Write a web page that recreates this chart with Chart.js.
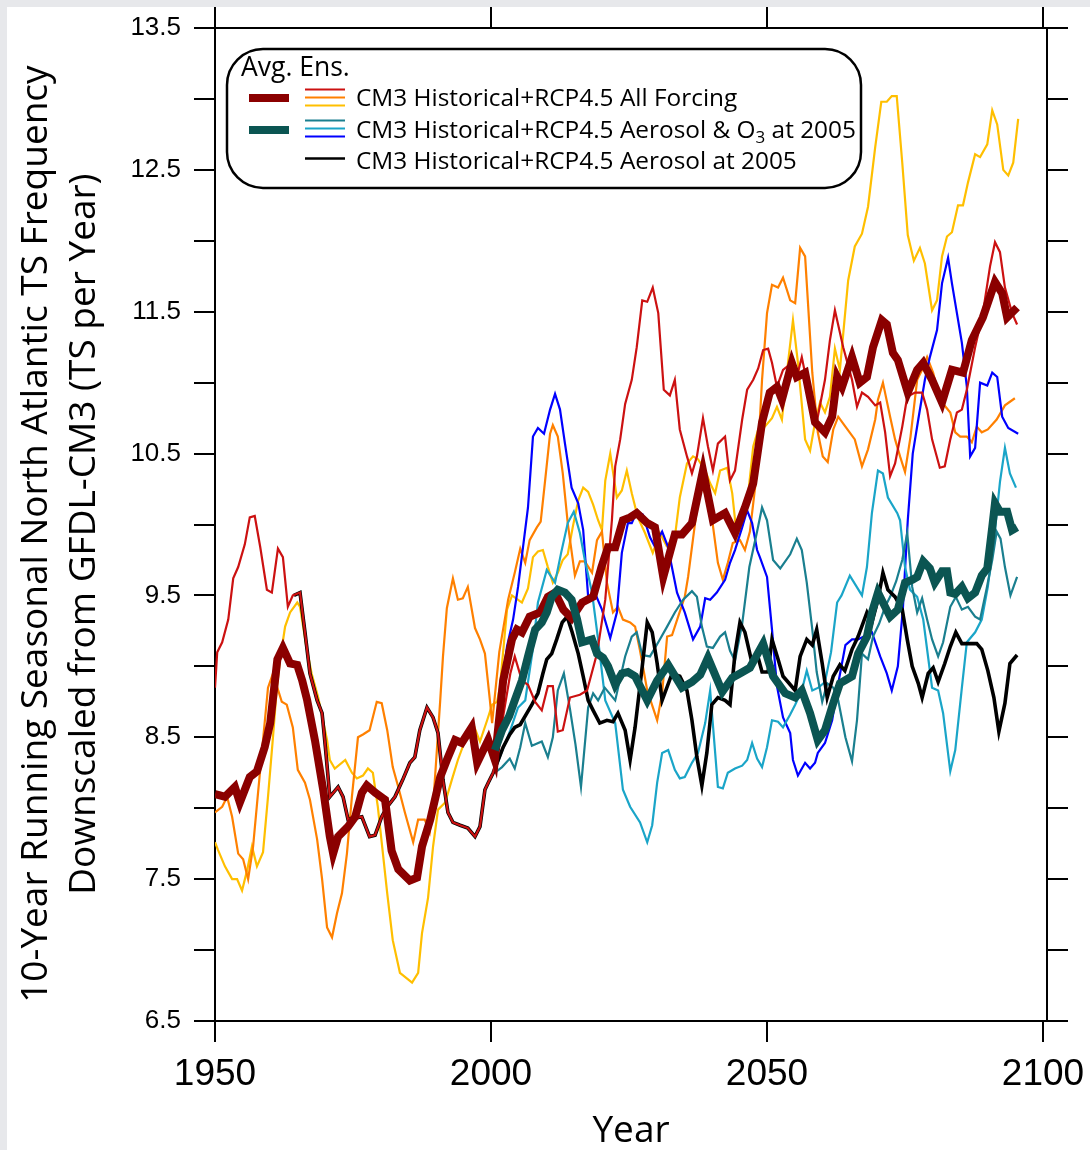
<!DOCTYPE html>
<html>
<head>
<meta charset="utf-8">
<script src="https://cdn.jsdelivr.net/npm/chart.js@4"></script>
<style>
  html, body { margin: 0; padding: 0; background: #fff; overflow: hidden; }
  canvas { display: block; }
</style>
</head>
<body>
<canvas id="tsChart" width="1090" height="1150"></canvas>
<script>
// Axis ticks
const xTicks = [1950, 2000, 2050, 2100];
const yTicks = [6.5, 7, 7.5, 8, 8.5, 9, 9.5, 10, 10.5, 11, 11.5, 12, 12.5, 13, 13.5];

// All Forcing : ensemble mean + 3 members  ([year, TS per year])
const allMean = [[1950,8.10],[1950.9,8.09],[1951.8,8.08],[1953.6,8.15],[1954.5,8.04],[1956.3,8.22],[1957.6,8.26],[1959,8.43],[1960,8.60],[1961.3,9.05],[1962.3,9.13],[1963.6,9.02],[1964.9,9.01],[1965.8,8.90],[1966.7,8.76],[1968.1,8.48],[1969.6,8.13],[1970.8,7.80],[1971.4,7.68],[1972.3,7.80],[1974.1,7.87],[1975.4,7.94],[1976.6,8.11],[1977.5,8.16],[1979,8.11],[1980.8,8.06],[1982,7.70],[1983.2,7.57],[1985.3,7.49],[1986.6,7.51],[1987.5,7.73],[1989,7.92],[1990.8,8.22],[1992,8.34],[1993.5,8.48],[1994.7,8.46],[1996.5,8.57],[1997.5,8.32],[1999.5,8.48],[2000.7,8.34],[2002.2,8.90],[2003.8,9.19],[2004.7,9.26],[2005.6,9.24],[2007,9.35],[2008.9,9.38],[2010.3,9.49],[2011.6,9.52],[2013.1,9.40],[2014.6,9.34],[2016.5,9.45],[2018.5,9.49],[2020,9.70],[2021.2,9.84],[2022.5,9.84],[2023.9,10.03],[2025.2,10.05],[2026.4,10.08],[2028.3,10.01],[2029.7,9.98],[2031.2,9.63],[2033.3,9.93],[2034.6,9.93],[2036.4,10.01],[2038.4,10.38],[2040.2,10.03],[2042.4,10.08],[2044.2,9.94],[2046,10.12],[2047.5,10.29],[2049.1,10.72],[2050.5,10.93],[2051.8,10.97],[2052.7,10.88],[2054.5,11.14],[2055.4,11.04],[2056.9,11.07],[2058.7,10.72],[2060.5,10.65],[2061.8,10.76],[2062.7,11.04],[2063.6,10.97],[2065.4,11.18],[2066.8,11.00],[2068.1,11.04],[2069.2,11.25],[2070.8,11.44],[2071.7,11.41],[2072.8,11.21],[2073.7,11.16],[2075.5,10.93],[2077.2,11.09],[2078.3,11.14],[2079.9,11.02],[2081.7,10.86],[2083.5,11.09],[2085.5,11.07],[2087.1,11.30],[2089.1,11.46],[2091.3,11.71],[2092.6,11.63],[2093.5,11.46],[2095.3,11.53]];

const allRun1 = [[1950,8.85],[1950.4,9.10],[1951.3,9.17],[1952.4,9.33],[1953.3,9.62],[1954.2,9.70],[1955.4,9.86],[1956.3,10.05],[1957.2,10.06],[1958.2,9.84],[1959.4,9.54],[1960.3,9.52],[1961.4,9.83],[1962.3,9.77],[1963.2,9.42],[1964.1,9.50],[1965.4,9.52],[1966.3,9.24],[1967.2,8.95],[1968.5,8.76],[1969.4,8.67],[1970,8.43],[1970.8,8.08],[1972.3,8.15],[1973.2,8.08],[1974.1,7.92],[1976.6,7.94],[1978,7.80],[1979,7.81],[1980.2,7.94],[1981.2,8.01],[1982.6,8.08],[1984,8.20],[1985.3,8.32],[1986.2,8.36],[1987.1,8.55],[1988.4,8.71],[1989.5,8.64],[1990.4,8.53],[1991.3,8.20],[1992.2,7.97],[1993.1,7.90],[1994.4,7.88],[1995.8,7.86],[1997.1,7.80],[1998,7.87],[1998.9,8.13],[1999.5,8.18],[2000.4,8.25],[2002,8.60],[2003.5,8.95],[2004.3,9.07],[2005.6,8.90],[2006.7,8.87],[2008,8.75],[2009.2,8.69],[2010.3,8.86],[2011.2,8.86],[2012.1,8.54],[2013,8.55],[2014.3,8.78],[2016.1,8.80],[2017.4,8.83],[2019.2,9.09],[2020.7,9.47],[2021.9,10.03],[2022.5,10.41],[2023.4,10.60],[2024.3,10.85],[2025.5,11.02],[2026.4,11.25],[2027.4,11.58],[2028.3,11.57],[2029.3,11.67],[2030.3,11.49],[2031.3,10.95],[2032.4,10.91],[2033.3,11.02],[2034.2,10.67],[2035.5,10.48],[2036.4,10.36],[2037.3,10.48],[2038.4,10.75],[2039.3,10.55],[2040.2,10.38],[2041.1,10.57],[2042.4,10.62],[2043.3,10.31],[2044.2,10.38],[2045.5,10.74],[2046.4,10.95],[2047.5,11.02],[2048.4,11.10],[2049.3,11.23],[2050.2,11.24],[2050.9,11.14],[2051.8,10.97],[2052.9,11.09],[2054.5,11.14],[2055.4,11.04],[2056.3,11.18],[2057.4,10.97],[2059,10.72],[2060.5,11.02],[2061.4,11.30],[2062.3,11.51],[2063.8,11.25],[2065.4,11.02],[2066.3,10.83],[2067.2,10.93],[2068.3,10.90],[2069.6,10.84],[2070.5,10.86],[2071.4,10.65],[2072.3,10.34],[2073.2,10.43],[2074.5,10.69],[2075.4,10.90],[2076.8,10.93],[2078.1,10.93],[2079,10.81],[2079.9,10.60],[2081.3,10.40],[2082.2,10.41],[2083.2,10.60],[2084.4,10.79],[2085.3,10.81],[2086.2,10.95],[2087.7,11.25],[2089.1,11.49],[2090.4,11.82],[2091.3,11.99],[2092.2,11.92],[2093.1,11.67],[2094.4,11.49],[2095.3,11.41]];

const allRun2 = [[1950,7.97],[1951.3,8.01],[1952.2,8.08],[1953.1,7.94],[1954.2,7.68],[1955.1,7.64],[1956,7.50],[1956.9,7.73],[1957.8,8.11],[1958.7,8.48],[1959.6,8.85],[1960.5,8.95],[1962.1,8.75],[1963,8.73],[1964.1,8.57],[1965,8.27],[1966.3,8.18],[1967.2,8.06],[1968.5,7.78],[1969.4,7.50],[1970.3,7.16],[1971.2,7.09],[1972.1,7.26],[1973,7.40],[1973.9,7.68],[1974.8,8.08],[1975.9,8.50],[1976.8,8.52],[1978,8.55],[1979.3,8.75],[1980.2,8.74],[1981.2,8.55],[1982.2,8.29],[1983.2,8.15],[1984.4,7.97],[1985.9,7.76],[1986.8,7.92],[1988,7.92],[1988.9,7.83],[1989.5,8.01],[1990.8,8.76],[1991.3,9.07],[1992,9.41],[1993.1,9.62],[1994,9.47],[1994.9,9.48],[1995.8,9.56],[1997.1,9.27],[1998,9.19],[1998.9,9.09],[1999.8,8.76],[2000.2,8.60],[2001.5,9.10],[2003.1,9.47],[2004.3,9.66],[2005.3,9.83],[2006.2,9.73],[2007,9.89],[2008.3,9.98],[2009,10.02],[2009.8,10.31],[2010.7,10.64],[2011.2,10.70],[2012.1,10.62],[2013,10.36],[2013.9,10.01],[2015.2,9.64],[2016.1,9.74],[2017,9.74],[2018.3,9.66],[2019.2,9.89],[2020.1,9.95],[2021,9.59],[2022.1,9.38],[2023,9.42],[2023.9,9.33],[2025.2,9.31],[2026.1,9.28],[2027,9.11],[2028.3,8.83],[2030.1,8.62],[2031,8.81],[2031.9,9.21],[2032.8,9.22],[2033.9,9.35],[2035.1,9.49],[2035.7,9.63],[2036.6,9.90],[2037.9,10.29],[2039,10.20],[2040,10.05],[2041.1,9.73],[2042,9.61],[2042.9,9.73],[2043.8,9.87],[2045.1,9.89],[2046,9.82],[2046.9,9.95],[2048.2,10.38],[2049.1,11.02],[2050,11.49],[2050.9,11.69],[2052,11.67],[2052.9,11.74],[2054.2,11.58],[2055.1,11.56],[2056,11.95],[2056.9,11.89],[2058.2,11.07],[2059.2,10.65],[2060.1,10.48],[2061,10.44],[2062,10.67],[2062.9,10.76],[2064,10.70],[2065.9,10.60],[2067.2,10.41],[2068.3,10.53],[2069.6,10.74],[2070.1,10.88],[2071,11.00],[2072.3,10.76],[2073.2,10.60],[2074.1,10.48],[2075,10.37],[2076,10.62],[2077.2,11.02],[2078.1,11.09],[2079,11.18],[2080.1,11.07],[2081.3,10.88],[2083.2,10.79],[2084.1,10.65],[2085,10.62],[2086.2,10.62],[2087.1,10.58],[2088,10.69],[2088.9,10.65],[2090,10.67],[2091.6,10.74],[2093.1,10.84],[2094.9,10.89]];

const allRun3 = [[1950,7.76],[1950.5,7.71],[1951.8,7.59],[1953.1,7.50],[1954,7.50],[1954.9,7.42],[1955.8,7.56],[1956.7,7.73],[1957.6,7.59],[1958.7,7.69],[1959.6,8.08],[1960.5,8.50],[1961.2,8.85],[1961.8,9.05],[1962.7,9.28],[1963.6,9.38],[1964.9,9.45],[1965.4,9.42],[1966.5,9.15],[1967.5,8.95],[1968.7,8.78],[1970.3,8.48],[1970.8,8.34],[1971.7,8.28],[1973.6,8.34],[1974.8,8.25],[1975.7,8.21],[1976.8,8.23],[1977.7,8.28],[1978.6,8.25],[1979.5,8.01],[1980.2,7.76],[1981.2,7.40],[1982.2,7.07],[1983.5,6.84],[1985.7,6.77],[1986.8,6.84],[1987.5,7.12],[1988.6,7.37],[1989.5,7.73],[1990.4,7.99],[1991.7,8.04],[1992.9,8.20],[1994,8.34],[1995.7,8.52],[1996.7,8.60],[1998,8.47],[1999.3,8.62],[2000.2,8.73],[2001.1,8.75],[2001.6,8.85],[2002.9,9.40],[2003.8,9.50],[2005.6,9.45],[2006.7,9.55],[2007.6,9.77],[2008.5,9.81],[2009.4,9.82],[2010.3,9.70],[2011.2,9.59],[2012.1,9.66],[2013,9.75],[2013.9,9.79],[2014.8,9.98],[2015.8,10.17],[2016.7,10.26],[2017.6,10.23],[2018.5,10.14],[2019.4,10.03],[2020.1,9.96],[2020.7,10.31],[2021.6,10.50],[2022.8,10.19],[2023.7,10.24],[2024.6,10.38],[2025.5,10.22],[2026.6,10.05],[2027.9,9.94],[2029.3,9.80],[2030.6,9.94],[2031.8,9.85],[2033.3,9.91],[2034.2,10.19],[2035.5,10.43],[2036.6,10.48],[2037.5,10.46],[2038.8,10.38],[2039.7,10.29],[2040.6,10.22],[2041.5,10.38],[2042.8,10.40],[2043.7,10.22],[2044.6,9.89],[2045.7,10.03],[2046.6,10.22],[2047.5,10.55],[2048.4,10.67],[2049.6,10.69],[2050.9,10.75],[2051.8,10.83],[2052.7,10.74],[2053.8,11.14],[2054.7,11.44],[2055.6,11.14],[2056.9,10.60],[2057.8,10.52],[2058.7,10.72],[2059.6,10.86],[2060.5,10.79],[2061.4,10.90],[2062.3,11.24],[2063.2,11.09],[2064.7,11.72],[2065.9,11.96],[2067.2,12.05],[2068.3,12.24],[2069.6,12.66],[2070.7,12.98],[2071.7,12.98],[2072.6,13.02],[2073.5,13.02],[2074.5,12.55],[2075.5,12.04],[2076.6,11.86],[2077.7,11.95],[2078.6,11.84],[2079.9,11.51],[2080.8,11.58],[2081.7,11.89],[2082.6,12.03],[2083.5,12.06],[2084.6,12.25],[2085.5,12.25],[2086.4,12.41],[2087.7,12.61],[2088.6,12.59],[2089.9,12.68],[2090.8,12.92],[2091.7,12.82],[2092.8,12.50],[2093.7,12.46],[2094.6,12.55],[2095.5,12.86]];

// Aerosol & O3 at 2005 : ensemble mean + 3 members
const aerO3Mean = [[2000.7,8.41],[2002,8.55],[2003.3,8.65],[2004.3,8.76],[2005.6,8.90],[2006.7,9.07],[2008,9.26],[2009.2,9.31],[2010.1,9.38],[2011,9.49],[2012.1,9.54],[2013.4,9.52],[2014.6,9.47],[2015.6,9.33],[2016.5,9.17],[2018.3,9.19],[2019.2,9.09],[2020.3,9.06],[2021.2,9.00],[2022.5,8.87],[2023.7,8.95],[2024.8,8.96],[2026.1,8.93],[2028.3,8.76],[2030.1,8.90],[2032.1,9.01],[2034.6,8.85],[2036.4,8.89],[2037.9,8.94],[2039.3,9.06],[2041.9,8.82],[2043.7,8.92],[2045.1,8.95],[2046.9,8.99],[2049.3,9.16],[2051.1,8.93],[2053.3,8.81],[2055.1,8.78],[2056.3,8.83],[2057.8,8.67],[2059.2,8.48],[2060.5,8.55],[2062,8.74],[2063.2,8.88],[2064.1,8.90],[2065.4,8.93],[2066.5,9.09],[2068.1,9.21],[2069,9.38],[2070.1,9.52],[2071,9.45],[2072.3,9.35],[2073.7,9.40],[2075,9.59],[2076.3,9.61],[2077.2,9.63],[2078.3,9.74],[2079.5,9.69],[2080.4,9.59],[2081.7,9.67],[2082.6,9.67],[2083.2,9.52],[2084.1,9.51],[2085.3,9.56],[2086.4,9.48],[2087.7,9.52],[2088.9,9.64],[2089.9,9.69],[2090.8,9.98],[2091.3,10.15],[2092.2,10.09],[2093.5,10.09],[2094.4,9.96],[2095.3,9.98]];

const aerO3Run1 = [[2000.7,8.25],[2002,8.29],[2003.4,8.35],[2004.3,8.28],[2005.3,8.43],[2006.2,8.60],[2007.4,8.44],[2009.2,8.47],[2010.3,8.36],[2011.2,8.50],[2012.1,8.83],[2013.2,8.95],[2014.3,8.70],[2015.3,8.45],[2016.3,8.15],[2017.6,8.71],[2018.5,8.81],[2019.4,8.76],[2020.6,8.85],[2022.5,8.76],[2024.3,9.07],[2025.5,9.21],[2026.4,9.24],[2027.4,9.08],[2028.8,9.07],[2030.3,9.17],[2031.9,9.28],[2033.3,9.38],[2034.8,9.47],[2036.4,9.53],[2037.3,9.49],[2038.2,9.28],[2039.1,9.14],[2040.2,9.13],[2041.5,9.21],[2042.4,9.24],[2043.3,9.11],[2044.2,9.04],[2045.5,9.30],[2046.8,9.70],[2048.2,9.95],[2049.1,10.12],[2050,10.03],[2051.1,9.75],[2052.4,9.69],[2054.2,9.79],[2055.4,9.90],[2056.3,9.82],[2057.2,9.59],[2058.2,9.26],[2059,8.96],[2060,8.75],[2060.9,8.88],[2062,8.85],[2062.9,8.76],[2064.2,8.50],[2065.4,8.33],[2066.3,8.62],[2067.2,9.09],[2068.3,9.05],[2069.2,9.21],[2070.3,9.30],[2071.4,9.42],[2072.3,9.49],[2073.4,9.60],[2074.5,9.75],[2075.4,9.94],[2076.3,9.56],[2077.2,9.38],[2078.1,9.48],[2079,9.33],[2079.9,9.19],[2081,9.07],[2081.9,9.17],[2083.2,9.42],[2084.2,9.49],[2085.3,9.40],[2086.4,9.42],[2087.7,9.35],[2088.6,9.33],[2089.8,9.55],[2090.8,9.75],[2091.6,9.95],[2092.3,9.90],[2093.1,9.70],[2094.1,9.50],[2095.3,9.63]];

const aerO3Run2 = [[2000.5,8.25],[2002,8.40],[2003.5,8.55],[2004.9,8.71],[2006.2,8.76],[2007.5,9.10],[2008.5,9.45],[2010.1,9.68],[2011.6,9.59],[2012.7,9.80],[2013.9,10.01],[2015,10.09],[2016.1,9.94],[2017,9.75],[2018.3,9.52],[2019.4,9.19],[2020.7,8.76],[2022.5,8.60],[2023.9,8.13],[2025.2,8.01],[2027,7.90],[2028.3,7.76],[2029.2,7.88],[2030.1,8.18],[2031,8.39],[2032.1,8.41],[2033.3,8.27],[2034.2,8.21],[2035.1,8.22],[2036.4,8.32],[2037.5,8.39],[2038.8,8.60],[2039.7,8.83],[2041.1,8.15],[2042,8.14],[2042.9,8.25],[2044.2,8.28],[2045.5,8.30],[2046.4,8.34],[2047.3,8.46],[2048.2,8.35],[2049.1,8.29],[2050,8.43],[2050.9,8.62],[2052,8.61],[2052.9,8.57],[2054.2,8.66],[2055.1,8.73],[2056.3,8.83],[2057.2,8.97],[2058.2,8.83],[2059.3,8.85],[2060.5,8.89],[2061.6,9.10],[2062.7,9.45],[2063.5,9.50],[2065,9.64],[2067.2,9.50],[2068.1,9.70],[2069,10.08],[2070.1,10.38],[2071,10.36],[2071.9,10.19],[2073.6,10.08],[2074.1,10.03],[2075,9.70],[2075.9,9.54],[2077.2,9.49],[2078.3,9.33],[2079.9,8.85],[2081,8.83],[2081.9,8.67],[2083.2,8.26],[2084.1,8.41],[2085.3,8.85],[2086.2,9.17],[2087.7,9.24],[2088.9,9.33],[2090,9.56],[2091.3,9.96],[2092.2,10.30],[2093.1,10.54],[2094,10.36],[2095.1,10.26]];

const aerO3Run3 = [[2000.4,8.35],[2001.6,8.76],[2002.9,9.14],[2004,9.33],[2004.9,9.56],[2005.8,9.84],[2006.7,10.12],[2007.6,10.62],[2008.5,10.68],[2009.6,10.64],[2010.7,10.81],[2011.6,10.92],[2012.5,10.81],[2013.4,10.57],[2014.6,10.26],[2015.8,10.15],[2016.7,9.96],[2017.6,9.49],[2018.8,9.52],[2020.1,9.40],[2021.6,9.20],[2022.8,9.38],[2023.7,9.80],[2024.8,10.01],[2025.5,10.01],[2026.4,10.09],[2027.5,10.07],[2028.8,9.91],[2029.6,9.85],[2031,9.95],[2032,9.85],[2033.7,9.52],[2035.1,9.38],[2036.6,9.19],[2037.9,9.28],[2038.8,9.48],[2039.7,9.47],[2040.9,9.52],[2042.4,9.61],[2043.3,9.73],[2044.2,9.82],[2045.5,9.98],[2046.4,10.10],[2047.3,10.01],[2048.2,9.82],[2048.7,9.77],[2050,9.63],[2050.9,9.26],[2051.8,8.86],[2052.9,8.64],[2054.2,8.53],[2054.7,8.34],[2055.6,8.23],[2056.9,8.32],[2057.8,8.28],[2058.7,8.32],[2059.2,8.39],[2060.5,8.46],[2061.8,8.62],[2063,8.90],[2064.2,9.15],[2065.4,9.19],[2066.5,9.19],[2069,9.24],[2070.5,9.07],[2071.7,8.95],[2072.6,8.83],[2073.7,9.00],[2074.6,9.40],[2075.5,10.03],[2076.4,10.50],[2077.4,10.74],[2078.6,11.02],[2079.5,11.18],[2080.8,11.37],[2081.7,11.70],[2082.8,11.88],[2083.5,11.70],[2084.4,11.49],[2085.3,11.28],[2086.2,10.97],[2086.8,10.48],[2087.7,10.54],[2088.6,11.00],[2089.9,10.98],[2090.8,11.07],[2091.7,11.04],[2092.6,10.76],[2093.7,10.68],[2095.5,10.64]];

// Aerosol at 2005 : single run
const aerRun = [[1964.3,9.50],[1965.4,9.52],[1966.3,9.24],[1967.2,8.95],[1968.5,8.76],[1969.4,8.67],[1970,8.43],[1970.8,8.08],[1972.3,8.15],[1973.2,8.08],[1974.1,7.92],[1976.6,7.94],[1978,7.80],[1979,7.81],[1980.2,7.94],[1981.2,8.01],[1982.6,8.08],[1984,8.20],[1985.3,8.32],[1986.2,8.36],[1987.1,8.55],[1988.4,8.71],[1989.5,8.64],[1990.4,8.53],[1991.3,8.20],[1992.2,7.97],[1993.1,7.90],[1994.4,7.88],[1995.8,7.86],[1997.1,7.80],[1998,7.87],[1998.9,8.13],[1999.5,8.18],[2000.4,8.25],[2001.3,8.34],[2002.2,8.43],[2003.4,8.52],[2004.3,8.57],[2005.3,8.59],[2006.5,8.67],[2007.4,8.73],[2008.5,8.81],[2009.4,8.95],[2010.1,9.05],[2011,9.09],[2011.9,9.19],[2012.9,9.31],[2013.8,9.35],[2014.7,9.24],[2015.8,9.09],[2016.7,8.93],[2017.6,8.76],[2018.5,8.69],[2019.7,8.60],[2021,8.62],[2022.1,8.61],[2023,8.67],[2024.3,8.55],[2025.2,8.34],[2026.1,8.57],[2027.4,9.00],[2028.3,9.31],[2029.2,9.24],[2030.1,9.02],[2031,8.76],[2032.8,8.95],[2034.2,8.93],[2035.5,8.83],[2036.4,8.62],[2037.3,8.36],[2038.2,8.16],[2039.1,8.39],[2040,8.73],[2041.1,8.78],[2042.4,8.76],[2043.3,8.73],[2044.2,9.09],[2045.1,9.31],[2046,9.24],[2047.3,9.02],[2048.2,9.09],[2049.1,8.96],[2050.2,8.96],[2050.9,9.19],[2052,9.05],[2052.9,8.93],[2053.8,8.89],[2055.1,8.83],[2056,9.07],[2057.2,9.19],[2058.2,9.15],[2059,9.26],[2060,9.02],[2060.9,8.78],[2062,8.93],[2063.2,9.01],[2064.1,8.97],[2065.4,9.12],[2066.5,9.21],[2068.1,9.38],[2069,9.31],[2070.1,9.47],[2071,9.66],[2071.9,9.54],[2073.2,9.49],[2074.5,9.40],[2075.4,9.19],[2076.3,9.00],[2077.4,8.88],[2078.1,8.78],[2079.2,8.95],[2080.1,8.99],[2081,8.89],[2082.2,9.02],[2083.2,9.14],[2084.2,9.24],[2085.3,9.16],[2086.4,9.16],[2088,9.16],[2088.9,9.12],[2090,8.97],[2091.1,8.78],[2092,8.54],[2093.1,8.74],[2094,9.02],[2095.3,9.08]];

const toXY = arr => arr.map(p => ({ x: p[0], y: p[1] }));

function line(data, color, width) {
  return {
    data: toXY(data),
    borderColor: color,
    borderWidth: width,
    pointRadius: 0,
    tension: 0,
    fill: false,
    xAxisID: 'x',
    yAxisID: 'y'
  };
}

// first in the list = drawn on top
const datasets = [
  line(aerO3Mean, '#0b5552', 8),
  line(allMean, '#8b0000', 8),
  line(allRun1, '#cc1111', 2.2),
  line(aerRun, '#000000', 3.6),
  line(aerO3Run1, '#1a7f8f', 2.2),
  line(aerO3Run2, '#1aa5c8', 2.2),
  line(aerO3Run3, '#0000ff', 2.2),
  line(allRun2, '#ff8000', 2.2),
  line(allRun3, '#ffbf00', 2.2)
];

// grey frame round the white panel
const backgroundPlugin = {
  id: 'panelBg',
  beforeDraw(chart) {
    const ctx = chart.ctx;
    ctx.save();
    ctx.fillStyle = '#e7e8eb';
    ctx.fillRect(0, 0, chart.width, chart.height);
    ctx.fillStyle = '#ffffff';
    ctx.fillRect(7, 7, chart.width - 7, chart.height - 7);
    ctx.restore();
  }
};

// rounded legend box
const legendPlugin = {
  id: 'boxLegend',
  afterDraw(chart) {
    const ctx = chart.ctx;
    const x = 227, y = 49, w = 634, h = 139, r = 36;
    ctx.save();
    ctx.beginPath();
    ctx.roundRect(x, y, w, h, r);
    ctx.fillStyle = '#fff';
    ctx.fill();
    ctx.lineWidth = 2.5;
    ctx.strokeStyle = '#000';
    ctx.stroke();

    ctx.fillStyle = '#000';
    ctx.textBaseline = 'alphabetic';
    ctx.font = '26.5px "Open Sans"';
    ctx.fillText('Avg. Ens.', 241, 76);

    const seg = (x1, x2, yy, color, lw) => {
      ctx.beginPath();
      ctx.moveTo(x1, yy);
      ctx.lineTo(x2, yy);
      ctx.strokeStyle = color;
      ctx.lineWidth = lw;
      ctx.stroke();
    };
    seg(249, 289, 98, '#8b0000', 8);
    seg(305, 345, 89.5, '#cc1111', 2.2);
    seg(305, 345, 97.5, '#ff8000', 2.2);
    seg(305, 345, 105.5, '#ffbf00', 2.2);
    seg(249, 289, 130, '#0b5552', 8);
    seg(305, 345, 120.5, '#1a7f8f', 2.2);
    seg(305, 345, 128.5, '#1aa5c8', 2.2);
    seg(305, 345, 136.5, '#0000ff', 2.2);
    seg(305, 345, 158.5, '#000000', 2.6);

    const big = '24.4px "Open Sans"';
    ctx.font = big;
    ctx.fillText('CM3 Historical+RCP4.5 All Forcing', 356, 106);
    let t = 'CM3 Historical+RCP4.5 Aerosol & O';
    ctx.fillText(t, 356, 138);
    let tx = 356 + ctx.measureText(t).width;
    ctx.font = '17px "Open Sans"';
    ctx.fillText('3', tx, 143);
    tx += ctx.measureText('3').width;
    ctx.font = big;
    ctx.fillText(' at 2005', tx, 138);
    ctx.fillText('CM3 Historical+RCP4.5 Aerosol at 2005', 356, 169);
    ctx.restore();
  }
};

const axisGrid = { drawOnChartArea: false, drawTicks: true, tickLength: 21, color: '#000', lineWidth: 2 };
const axisBorder = { display: true, color: '#000', width: 2 };
const setXTicks = s => { s.ticks = xTicks.map(v => ({ value: v })); };
const setYTicks = s => { s.ticks = yTicks.map(v => ({ value: v })); };
// fixed box sizes, so labels never squeeze the plot area
const fixHeight = h => s => { s.height = h; s.paddingLeft = 0; s.paddingRight = 0; };
const fixWidth = w => s => { s.width = w; s.paddingTop = 0; s.paddingBottom = 0; };

new Chart(document.getElementById('tsChart'), {
  type: 'line',
  data: { datasets },
  options: {
    responsive: false,
    animation: false,
    events: [],
    layout: { padding: 0 },
    plugins: { legend: { display: false }, tooltip: { enabled: false } },
    scales: {
      x: {
        type: 'linear', position: 'bottom', min: 1950, max: 2100.72,
        afterBuildTicks: setXTicks,
        afterFit: fixHeight(129),
        grid: axisGrid, border: axisBorder,
        ticks: { color: '#000', padding: 11, maxRotation: 0, font: { family: 'Liberation Sans', size: 37 },
          callback: v => String(v) },
        title: { display: true, text: 'Year', color: '#000', padding: 0,
          font: { family: 'Open Sans', size: 37, lineHeight: 1 } }
      },
      x2: {
        type: 'linear', position: 'top', min: 1950, max: 2100.72,
        afterBuildTicks: setXTicks,
        afterFit: fixHeight(28),
        grid: axisGrid, border: axisBorder,
        ticks: { display: false }
      },
      y: {
        type: 'linear', position: 'left', min: 6.5, max: 13.5,
        afterBuildTicks: setYTicks,
        afterFit: fixWidth(215),
        grid: axisGrid, border: axisBorder,
        ticks: { color: '#000', padding: 13, font: { family: 'Liberation Sans', size: 26 },
          callback: v => (Math.round(v * 2) % 2 === 1 ? v.toFixed(1) : '') },
        // two trailing spaces nudge the centred title a little lower, as in the original
        title: { display: true, color: '#000', padding: { top: 12, bottom: 0 },
          text: ['10-Year Running Seasonal North Atlantic TS Frequency\u00a0\u00a0', 'Downscaled from GFDL-CM3 (TS per Year)\u00a0\u00a0'],
          font: { family: 'Open Sans', size: 37, lineHeight: 1.3 } }
      },
      y2: {
        type: 'linear', position: 'right', min: 6.5, max: 13.5,
        afterBuildTicks: setYTicks,
        afterFit: fixWidth(43),
        grid: axisGrid, border: axisBorder,
        ticks: { display: false }
      }
    }
  },
  plugins: [backgroundPlugin, legendPlugin]
});
</script>
</body>
</html>
